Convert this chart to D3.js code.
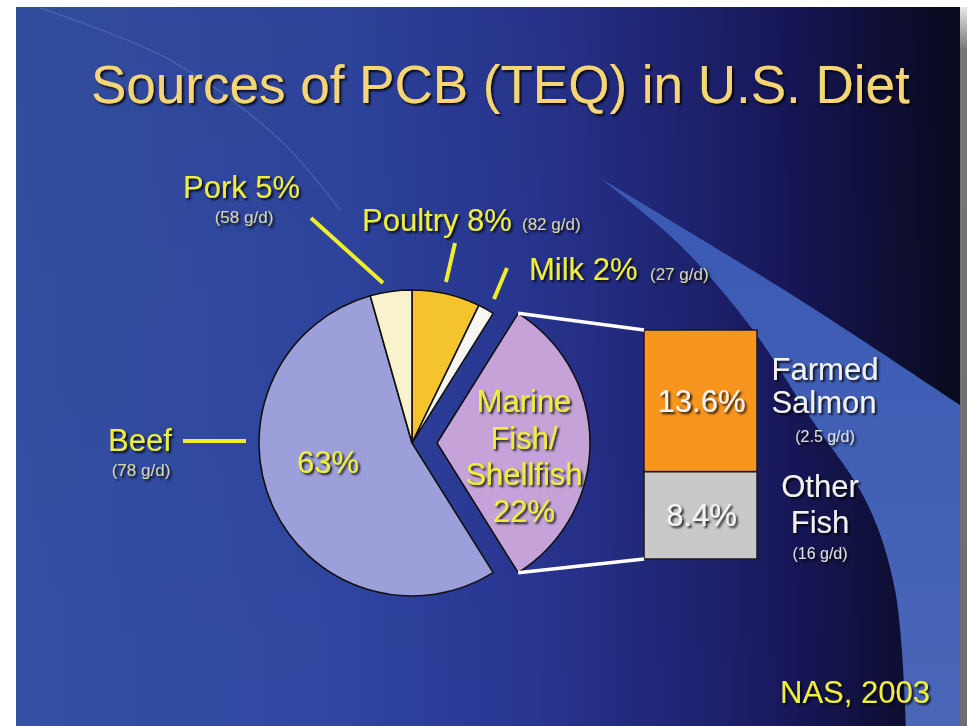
<!DOCTYPE html>
<html>
<head>
<meta charset="utf-8">
<script src="https://cdn.jsdelivr.net/npm/d3@7/dist/d3.min.js"></script>
<style>
  html, body { margin: 0; padding: 0; background: #ffffff; }
  svg { display: block; font-family: "Liberation Sans", Arial, Helvetica, sans-serif; }
</style>
</head>
<body>
<svg id="chart" width="967" height="726"></svg>
<script>
// ---------------- data ----------------
const title = "Sources of PCB (TEQ) in U.S. Diet";
const source = "NAS, 2003";
// pie categories in drawing order (clockwise from 12 o'clock)
const categories   = ["Poultry", "Milk", "Marine Fish/Shellfish", "Beef", "Pork"];
const labelPercent = [8, 2, 22, 63, 5];                 // percentages printed on the slide
const drawnShare   = [7.2, 1.7, 32.2, 54.5, 4.4];       // slice sizes as drawn in the picture
const intake       = ["(82 g/d)", "(27 g/d)", "", "(78 g/d)", "(58 g/d)"];
const sliceColors  = ["#f5c42c", "#f6f6f2", "#c5a3d8", "#9d9fda", "#f8f2cd"];
// breakdown of marine fish/shellfish (stacked bar, bottom to top)
const fishCategories = ["Other Fish", "Farmed Salmon"];
const fishPercent    = [8.4, 13.6];
const fishIntake     = ["(16 g/d)", "(2.5 g/d)"];
const fishColors     = ["#c9c9c9", "#f7951e"];

// ---------------- setup ----------------
const svg = d3.select("#chart");
const defs = svg.append("defs");

const bg = defs.append("linearGradient").attr("id", "bg").attr("x1", 0).attr("x2", 1).attr("y1", 0).attr("y2", 0);
[[0, "#3451a5"], [0.35, "#2f45a0"], [0.55, "#283591"], [0.7, "#202575"], [0.82, "#17175a"], [0.92, "#0f0f38"], [1, "#090a1e"]]
  .forEach(([o, c]) => bg.append("stop").attr("offset", o).attr("stop-color", c));

const bgV = defs.append("linearGradient").attr("id", "bgV").attr("x1", 0).attr("x2", 0).attr("y1", 0).attr("y2", 1);
bgV.append("stop").attr("offset", 0).attr("stop-color", "#000").attr("stop-opacity", 0.05);
bgV.append("stop").attr("offset", 1).attr("stop-color", "#000").attr("stop-opacity", 0.0);

const sw = defs.append("linearGradient").attr("id", "swoosh").attr("x1", 0).attr("x2", 0).attr("y1", 0).attr("y2", 1);
sw.append("stop").attr("offset", 0).attr("stop-color", "#3a59b3");
sw.append("stop").attr("offset", 1).attr("stop-color", "#4966b8");

const shadowStrip = defs.append("linearGradient").attr("id", "strip").attr("x1", 0).attr("x2", 0).attr("y1", 0).attr("y2", 1);
shadowStrip.append("stop").attr("offset", 0).attr("stop-color", "#e8e8e8");
shadowStrip.append("stop").attr("offset", 0.06).attr("stop-color", "#757575");
shadowStrip.append("stop").attr("offset", 1).attr("stop-color", "#6e6e6e");

const f = defs.append("filter").attr("id", "shadow").attr("x", "-10%").attr("y", "-20%").attr("width", "130%").attr("height", "150%");
f.append("feDropShadow").attr("dx", 2).attr("dy", 2).attr("stdDeviation", 0.8).attr("flood-color", "#000").attr("flood-opacity", 0.85);

// slide background
const slide = { x: 16, y: 7, w: 944, h: 719 };
svg.append("rect").attr("x", slide.x).attr("y", slide.y).attr("width", slide.w).attr("height", slide.h).attr("fill", "url(#bg)");
svg.append("rect").attr("x", slide.x).attr("y", slide.y).attr("width", slide.w).attr("height", slide.h).attr("fill", "url(#bgV)");
svg.append("rect").attr("x", 960).attr("y", slide.y).attr("width", 7).attr("height", slide.h).attr("fill", "url(#strip)");

// decorative swoosh
const swooshPts = [[600, 178], [680, 245], [753, 330], [810, 417], [867, 503], [895, 590], [906, 726]];
const topEdge = [[960, 405], [800, 300], [600, 178]];
const curve = d3.line().curve(d3.curveCatmullRom.alpha(0.5));
const swooshPath = curve(swooshPts) + "L960,726" + "L" + topEdge[0].join(",") + curve(topEdge).replace(/^M[^C]*/, "L" + topEdge[0].join(",")) + "Z";
svg.append("path").attr("d", swooshPath).attr("fill", "url(#swoosh)");
// faint arc in the title area
svg.append("path")
  .attr("d", d3.line().curve(d3.curveCatmullRom)([[40, 8], [170, 60], [280, 140], [340, 210]]))
  .attr("fill", "none").attr("stroke", "#8fa2e0").attr("stroke-opacity", 0.25).attr("stroke-width", 1.5);

// ---------------- title ----------------
svg.append("text").attr("x", 91).attr("y", 103).text(title)
  .attr("font-size", 53).attr("fill", "#f6d574").attr("filter", "url(#shadow)");

// ---------------- pie ----------------
const cx = 412, cy = 443, R = 153, explode = 25;
const pieData = categories.map((c, i) => ({ cat: c, share: drawnShare[i], pct: labelPercent[i], color: sliceColors[i] }));
const arcs = d3.pie().sort(null).value(d => d.share).startAngle(0).endAngle(2 * Math.PI)(pieData);
const arc = d3.arc().innerRadius(0).outerRadius(R);
const offsetOf = d => {
  if (d.data.cat !== "Marine Fish/Shellfish") return [0, 0];
  const m = (d.startAngle + d.endAngle) / 2;
  return [explode * Math.sin(m), -explode * Math.cos(m)];
};
const gPie = svg.append("g").attr("transform", `translate(${cx},${cy})`);
gPie.selectAll("path.slice").data(arcs).join("path").attr("class", "slice")
  .attr("d", arc)
  .attr("transform", d => `translate(${offsetOf(d)})`)
  .attr("fill", d => d.data.color)
  .attr("stroke", "#111").attr("stroke-width", 1.6).attr("stroke-linejoin", "round");

// ---------------- stacked bar ----------------
const total = d3.sum(fishPercent);
const y = d3.scaleLinear().domain([0, total]).range([559, 330]);
const barX = 644, barW = 113;
let acc = 0;
const stackData = fishPercent.map((v, i) => { const s = { cat: fishCategories[i], v, y0: acc, y1: acc + v, color: fishColors[i] }; acc += v; return s; });
svg.selectAll("rect.fish").data(stackData).join("rect").attr("class", "fish")
  .attr("x", barX).attr("width", barW)
  .attr("y", d => y(d.y1)).attr("height", d => y(d.y0) - y(d.y1))
  .attr("fill", d => d.color).attr("stroke", "#1a1a1a").attr("stroke-width", 1.5);

// connector lines from exploded slice to bar
const marine = arcs.find(d => d.data.cat === "Marine Fish/Shellfish");
const mo = offsetOf(marine);
const corner = a => [cx + mo[0] + R * Math.sin(a), cy + mo[1] - R * Math.cos(a)];
const c1 = corner(marine.startAngle), c2 = corner(marine.endAngle);
[[c1, [barX, y(total)]], [c2, [barX, y(0)]]].forEach(([p, q]) => {
  svg.append("line").attr("x1", p[0]).attr("y1", p[1]).attr("x2", q[0]).attr("y2", q[1])
    .attr("stroke", "#ffffff").attr("stroke-width", 3.5);
});

// ---------------- labels ----------------
const YEL = "#efee3c", SUB = "#d5d5a6";
function label(x, yy, txt, size, color, anchor) {
  return svg.append("text").attr("x", x).attr("y", yy).text(txt)
    .attr("font-size", size).attr("fill", color).attr("text-anchor", anchor || "start")
    .attr("filter", "url(#shadow)");
}
function leader(x1, y1, x2, y2) {
  svg.append("line").attr("x1", x1).attr("y1", y1).attr("x2", x2).attr("y2", y2)
    .attr("stroke", "#eeee2a").attr("stroke-width", 4);
}
const idx = c => categories.indexOf(c);

// Pork
label(183, 198, `Pork ${labelPercent[idx("Pork")]}%`, 31, YEL);
label(244, 223, intake[idx("Pork")], 17, SUB, "middle");
leader(311, 218, 383, 283);
// Poultry
label(362, 231, `Poultry ${labelPercent[idx("Poultry")]}%`, 31, YEL);
label(522, 230, intake[idx("Poultry")], 17, SUB);
leader(455, 243, 446, 282);
// Milk
label(529, 280, `Milk ${labelPercent[idx("Milk")]}%`, 31, YEL);
label(650, 280, intake[idx("Milk")], 17, SUB);
leader(507, 268, 494, 299);
// Beef
label(108, 451, "Beef", 31, YEL);
label(141, 476, intake[idx("Beef")], 17, SUB, "middle");
leader(183, 441, 246, 441);
label(328, 473, `${labelPercent[idx("Beef")]}%`, 31, YEL, "middle");
// Marine fish
["Marine", "Fish/", "Shellfish", `${labelPercent[idx("Marine Fish/Shellfish")]}%`].forEach((t, i) => {
  label(524, 412 + i * 36.7, t, 31, YEL, "middle");
});

// bar labels
const barMid = barX + barW / 2;
stackData.forEach(d => {
  label(barMid + 1, (y(d.y0) + y(d.y1)) / 2 + 11, d.v.toFixed(1) + "%", 31, "#f4f4f4", "middle");
});
const fsIdx = fishCategories.indexOf("Farmed Salmon"), ofIdx = fishCategories.indexOf("Other Fish");
label(825, 380, "Farmed", 31, "#f2f2f2", "middle");
label(824, 413, "Salmon", 31, "#f2f2f2", "middle");
label(825, 442, fishIntake[fsIdx], 16, "#dedede", "middle");
label(820, 497, "Other", 31, "#f2f2f2", "middle");
label(820, 533, "Fish", 31, "#f2f2f2", "middle");
label(820, 559, fishIntake[ofIdx], 16, "#dedede", "middle");

// source
label(780, 703, source, 31, YEL);
</script>
</body>
</html>
